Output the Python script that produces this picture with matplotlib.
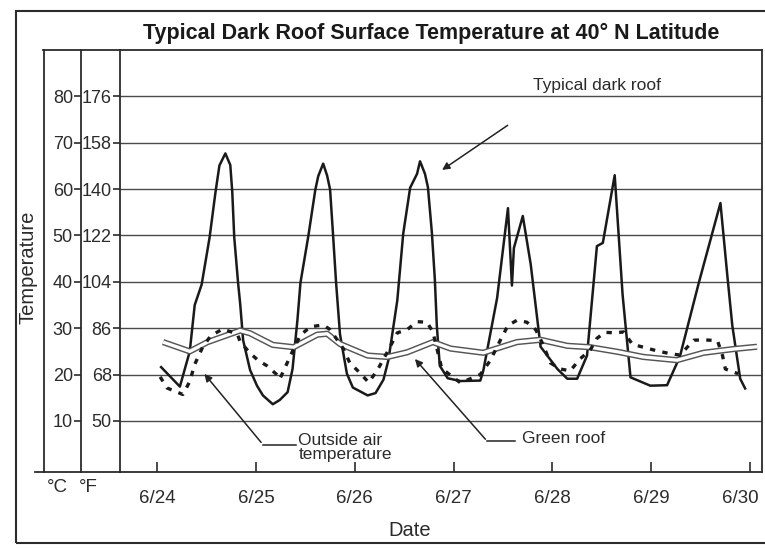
import matplotlib.pyplot as plt
from matplotlib.lines import Line2D
from matplotlib.patches import Rectangle
from matplotlib.transforms import ScaledTranslation

plt.rcParams['font.family'] = ['Liberation Sans', 'DejaVu Sans']

# days after 6/24 (0 = 6/24), temperatures in deg C
dark_day = [0.04, 0.23, 0.33, 0.38, 0.45, 0.53, 0.59, 0.63, 0.69, 0.74, 0.76, 0.78,
            0.82, 0.84, 0.87, 0.94, 1.01, 1.07, 1.17, 1.24, 1.32, 1.37, 1.42, 1.45,
            1.53, 1.60, 1.63, 1.68, 1.72, 1.75, 1.78, 1.81, 1.85, 1.92, 1.98, 2.13,
            2.21, 2.29, 2.34, 2.43, 2.49, 2.56, 2.63, 2.66, 2.71, 2.74, 2.78, 2.81,
            2.83, 2.86, 2.94, 3.07, 3.27, 3.30, 3.44, 3.55, 3.59, 3.61, 3.70, 3.78,
            3.88, 4.05, 4.15, 4.25, 4.35, 4.45, 4.51, 4.63, 4.71, 4.79, 4.99, 5.16,
            5.29, 5.48, 5.70, 5.77, 5.82, 5.90, 5.95]
dark_temp = [21.6, 17.4, 25.0, 35.0, 39.4, 49.5, 59.3, 65.1, 67.7, 65.2, 59.4, 49.6,
             39.5, 35.3, 27.4, 21.0, 17.6, 15.5, 13.6, 14.5, 16.2, 21.2, 31.9, 39.8,
             49.9, 59.8, 62.8, 65.5, 62.9, 59.9, 50.1, 40.0, 28.7, 20.2, 17.2, 15.5,
             16.0, 18.9, 23.1, 36.0, 50.4, 60.3, 63.3, 66.0, 63.3, 60.4, 50.6, 40.5,
             30.5, 21.9, 19.2, 18.6, 18.7, 20.8, 36.5, 55.9, 39.2, 47.3, 54.2, 43.8,
             26.0, 21.2, 19.1, 19.1, 24.1, 47.7, 48.4, 63.0, 37.2, 19.4, 17.6, 17.7,
             23.9, 39.7, 57.0, 41.3, 30.6, 19.1, 17.0]

green_day = [0.06, 0.33, 0.51, 0.84, 0.94, 1.17, 1.38, 1.62, 1.72, 1.85, 2.13, 2.33,
             2.53, 2.79, 2.97, 3.30, 3.64, 3.88, 4.15, 4.38, 4.66, 4.92, 5.26, 5.53,
             5.83, 6.07]
green_temp = [27.0, 25.0, 27.0, 29.5, 28.9, 26.4, 25.9, 28.6, 28.8, 26.6, 24.1, 23.8,
              24.8, 27.0, 25.6, 24.7, 27.0, 27.5, 26.2, 25.9, 24.9, 23.8, 23.1, 24.7,
              25.5, 26.0]

air_day = [0.03, 0.10, 0.26, 0.33, 0.38, 0.46, 0.54, 0.66, 0.81, 0.84, 0.94, 1.02,
           1.11, 1.21, 1.24, 1.32, 1.38, 1.45, 1.55, 1.68, 1.75, 1.88, 1.95, 2.05,
           2.14, 2.23, 2.33, 2.43, 2.53, 2.63, 2.73, 2.79, 2.88, 3.07, 3.27, 3.37,
           3.47, 3.55, 3.64, 3.74, 3.83, 3.90, 3.98, 4.08, 4.18, 4.28, 4.38, 4.45,
           4.53, 4.64, 4.72, 4.81, 4.92, 5.06, 5.19, 5.29, 5.43, 5.53, 5.67, 5.72,
           5.75, 5.82, 5.88]
air_temp = [19.5, 17.1, 15.7, 18.5, 22.2, 25.9, 28.3, 29.8, 28.8, 27.1, 24.6, 23.1,
            21.9, 20.0, 19.0, 22.7, 25.5, 28.5, 30.3, 30.7, 29.7, 25.7, 22.5, 20.4,
            18.3, 21.0, 24.9, 29.0, 29.7, 31.4, 31.3, 29.2, 21.3, 18.2, 20.0, 23.0,
            27.3, 30.6, 31.7, 31.3, 29.7, 26.7, 22.5, 21.2, 20.8, 23.4, 25.2, 27.8,
            29.1, 29.0, 29.2, 26.5, 25.9, 25.1, 24.5, 24.2, 27.4, 27.5, 27.3, 24.2,
            21.2, 20.6, 20.2]

date_ticks = [0, 1, 2, 3, 4, 5, 6]
date_labels = ['6/24', '6/25', '6/26', '6/27', '6/28', '6/29', '6/30']
c_ticks = [10, 20, 30, 40, 50, 60, 70, 80]
c_labels = ['10', '20', '30', '40', '50', '60', '70', '80']
f_labels = ['50', '68', '86', '104', '122', '140', '158', '176']

ink = '#2b2b2b'

fig = plt.figure(figsize=(7.65, 5.5), dpi=100)
ax = fig.add_axes([0.157, 0.142, 0.839, 0.767])
ax.set_xlim(-0.375, 6.12)
ax.set_ylim(-1, 90)

ax.plot(dark_day, dark_temp, color='#1a1a1a', lw=1.8)
ax.plot(green_day, green_temp, color='#555555', lw=4.5, solid_capstyle='butt')
ax.plot(green_day, green_temp, color='white', lw=2.4, solid_capstyle='butt')
ax.plot(air_day, air_temp, color='#1a1a1a', lw=2.4, linestyle=(0, (1.6, 2.2)))

ax.set_yticks(c_ticks)
ax.set_yticklabels(f_labels)
ax.yaxis.grid(True, color='#4a4a4a', lw=1)
ax.set_axisbelow(True)
ax.tick_params(axis='y', direction='out', length=5, width=1.2, pad=1,
               labelsize=13, labelcolor=ink, color=ink)
ax.set_xticks(date_ticks)
ax.set_xticklabels(date_labels)
ax.tick_params(axis='x', direction='in', length=7, width=1.2, pad=13,
               labelsize=13.5, labelcolor=ink, color=ink)
last = ax.get_xticklabels()[-1]
last.set_transform(last.get_transform() + ScaledTranslation(-0.1, 0, fig.dpi_scale_trans))
for s in ax.spines.values():
    s.set_color(ink)
    s.set_linewidth(1.3)

# Celsius scale
axc = ax.twinx()
axc.set_ylim(-1, 90)
axc.yaxis.set_ticks_position('left')
axc.spines['left'].set_position(('outward', 28))
for k in ['right', 'top', 'bottom']:
    axc.spines[k].set_visible(False)
axc.spines['left'].set_color(ink)
axc.spines['left'].set_linewidth(1.3)
axc.set_yticks(c_ticks)
axc.set_yticklabels(c_labels)
axc.tick_params(axis='y', direction='out', length=5, width=1.2, pad=1,
                labelsize=13, labelcolor=ink, color=ink)

# outer scale line
axo = ax.twinx()
axo.set_ylim(-1, 90)
axo.set_yticks([])
axo.spines['left'].set_position(('outward', 55))
axo.spines['left'].set_visible(True)
for k in ['right', 'top', 'bottom']:
    axo.spines[k].set_visible(False)
axo.spines['left'].set_color(ink)
axo.spines['left'].set_linewidth(1.3)

fig.add_artist(Line2D([35 / 765, 0.157], [0.142, 0.142], color=ink, lw=1.3))
fig.add_artist(Line2D([43 / 765, 0.157], [0.909, 0.909], color=ink, lw=1.3))
fig.add_artist(Rectangle((16 / 765, 1 - 543 / 550), 1.0, (543 - 11) / 550,
                         fill=False, edgecolor=ink, lw=1.5))

fig.text(431 / 765, 1 - 33 / 550, 'Typical Dark Roof Surface Temperature at 40° N Latitude',
         ha='center', va='center', fontsize=15.5, fontweight='bold', color='#1a1a1a')
fig.text(28 / 765, 1 - 267 / 550, 'Temperature', rotation=90, ha='center', va='center',
         fontsize=14.5, color=ink)
fig.text(410 / 765, 1 - 530 / 550, 'Date', ha='center', va='center', fontsize=14.5, color=ink)
fig.text(57 / 765, 1 - 487 / 550, '°C', ha='center', va='center', fontsize=13.5, color=ink)
fig.text(88 / 765, 1 - 487 / 550, '°F', ha='center', va='center', fontsize=13.5, color=ink)

arrow = dict(arrowstyle='-|>', color='#222222', lw=1.1, mutation_scale=11)
ax.annotate('', xy=(2.86, 63.8), xytext=(3.57, 74.1), arrowprops=arrow)
ax.text(3.80, 82.4, 'Typical dark roof', va='center', ha='left', fontsize=12.5, color=ink)

ax.annotate('', xy=(0.46, 20.6), xytext=(1.07, 4.9), arrowprops=arrow)
ax.plot([1.07, 1.40], [4.9, 4.9], color='#222222', lw=1.1)
ax.text(1.43, 4.2, 'Outside air\ntemperature', va='center', ha='left', fontsize=12.5,
        color=ink, linespacing=0.95)

ax.annotate('', xy=(2.59, 23.8), xytext=(3.34, 5.6), arrowprops=arrow)
ax.plot([3.34, 3.62], [5.6, 5.6], color='#222222', lw=1.1)
ax.text(3.69, 6.1, 'Green roof', va='center', ha='left', fontsize=12.5, color=ink)

fig.savefig('out.png', dpi=100)
